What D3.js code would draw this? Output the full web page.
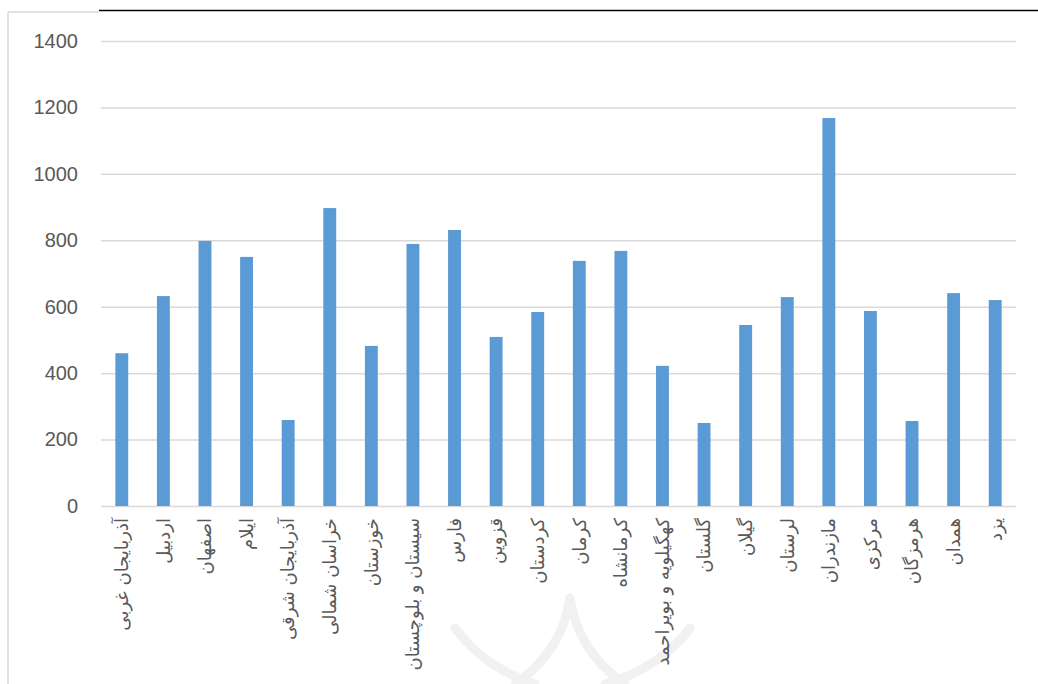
<!DOCTYPE html>
<html>
<head>
<meta charset="utf-8">
<script src="https://cdn.jsdelivr.net/npm/d3@7"></script>
<style>
  body { margin: 0; background: #fff; }
</style>
</head>
<body>
<div id="chart"></div>
<script>
// provinces (x categories) and their values
var provinces = [
  "آذربایجان غربی", "اردبیل", "اصفهان", "ایلام", "آذربایجان شرقی",
  "خراسان شمالی", "خوزستان", "سیستان و بلوچستان", "فارس", "قزوین",
  "کردستان", "کرمان", "کرمانشاه", "کهگیلویه و بویراحمد", "گلستان",
  "گیلان", "لرستان", "مازندران", "مرکزی", "هرمزگان", "همدان", "یزد"
];
var values = [
  460, 632, 798, 750, 259,
  897, 482, 789, 831, 509,
  584, 738, 768, 422, 250,
  545, 629, 1168, 587, 256, 641, 620
];
var yTicks = [0, 200, 400, 600, 800, 1000, 1200, 1400];

var W = 1038, H = 684;
var plot = {left: 101, right: 1016, top: 41, bottom: 506};

var svg = d3.select("#chart")
  .append("svg")
  .attr("width", W)
  .attr("height", H);

// faint watermark at the bottom
var wm = svg.append("g")
  .attr("fill", "none")
  .attr("stroke", "#f1f1f1")
  .attr("stroke-width", 9)
  .attr("stroke-linecap", "round");
wm.append("path").attr("d", "M455,628 Q485,668 535,684");
wm.append("path").attr("d", "M570,598 Q562,652 515,684");
wm.append("path").attr("d", "M570,598 Q578,652 625,684");
wm.append("path").attr("d", "M690,628 Q660,668 605,684");

// chart frame bits
svg.append("line")
  .attr("x1", 8).attr("x2", 8)
  .attr("y1", 12).attr("y2", H)
  .attr("stroke", "#d9d9d9").attr("stroke-width", 1.5);
svg.append("line")
  .attr("x1", 8).attr("x2", 99)
  .attr("y1", 12).attr("y2", 12)
  .attr("stroke", "#d9d9d9").attr("stroke-width", 1.5);
svg.append("line")
  .attr("x1", 99).attr("x2", W)
  .attr("y1", 10.5).attr("y2", 10.5)
  .attr("stroke", "#000").attr("stroke-width", 1.5);

var x = d3.scaleBand()
  .domain(provinces)
  .range([plot.left, plot.right])
  .paddingInner(0.69)
  .paddingOuter(0.345);

var y = d3.scaleLinear()
  .domain([0, 1400])
  .range([plot.bottom, plot.top]);

// gridlines + y labels
var yAxis = d3.axisLeft(y)
  .tickValues(yTicks)
  .tickSize(-(plot.right - plot.left))
  .tickPadding(23)
  .tickFormat(d3.format("d"));

var gy = svg.append("g")
  .attr("transform", "translate(" + plot.left + ",0)")
  .call(yAxis);
gy.select(".domain").remove();
gy.selectAll(".tick line")
  .attr("stroke", "#d9d9d9")
  .attr("stroke-width", 1.5);
gy.selectAll(".tick text")
  .attr("fill", "#595959")
  .style("font-family", "'Liberation Sans', Arial, sans-serif")
  .style("font-size", "20px");

// bars
svg.append("g")
  .selectAll("rect")
  .data(values)
  .enter()
  .append("rect")
  .attr("x", function(d, i) { return x(provinces[i]); })
  .attr("y", function(d) { return y(d); })
  .attr("width", x.bandwidth())
  .attr("height", function(d) { return y(0) - y(d); })
  .attr("fill", "#5b9bd5");

// x labels, rotated
var xAxis = d3.axisBottom(x).tickSize(0).tickPadding(0);
var gx = svg.append("g")
  .attr("transform", "translate(0," + plot.bottom + ")")
  .call(xAxis);
gx.select(".domain").remove();
gx.selectAll(".tick text")
  .attr("transform", "rotate(-90)")
  .attr("x", -12)
  .attr("y", 0)
  .attr("dy", "0.35em")
  .attr("text-anchor", "end")
  .attr("fill", "#595959")
  .style("font-family", "'DejaVu Sans', sans-serif")
  .style("font-size", "18px");
</script>
</body>
</html>
